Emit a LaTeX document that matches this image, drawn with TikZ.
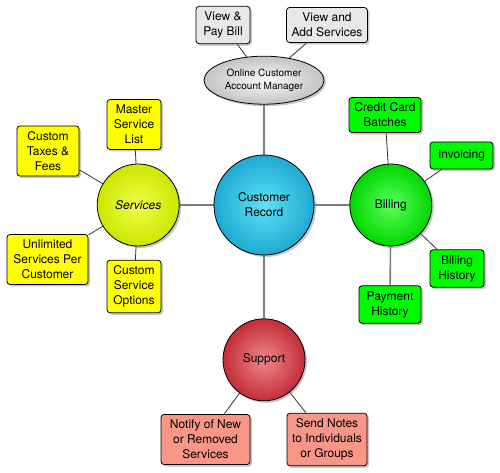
\documentclass[tikz,border=0pt]{standalone}
\usepackage{fontspec}
\setmainfont{TeX Gyre Heros}
\usetikzlibrary{positioning,shapes.geometric,shadows,backgrounds}
\usepackage{xcolor}

\definecolor{recIn}{RGB}{95,225,245}
\definecolor{recOut}{RGB}{30,170,210}
\definecolor{svcIn}{RGB}{240,255,70}
\definecolor{svcOut}{RGB}{205,230,0}
\definecolor{billIn}{RGB}{90,255,90}
\definecolor{billOut}{RGB}{0,215,0}
\definecolor{supIn}{RGB}{240,135,140}
\definecolor{supOut}{RGB}{195,45,55}
\definecolor{portalIn}{RGB}{250,250,250}
\definecolor{portalOut}{RGB}{195,195,195}
\definecolor{yellowBox}{RGB}{255,255,0}
\definecolor{greenBox}{RGB}{0,250,0}
\definecolor{pinkBox}{RGB}{250,150,135}
\definecolor{grayBox}{RGB}{232,232,232}
\definecolor{hubLine}{RGB}{125,125,125}

\begin{document}
\begin{tikzpicture}[
            x=1pt, y=-1pt,
            hub/.style 2 args={circle, draw, line width=0.8pt, minimum size=82pt, inner sep=0pt, align=center, font=\fontsize{12}{15}\selectfont, inner color=#1, outer color=#2, drop shadow={shadow xshift=2pt, shadow yshift=-2pt, opacity=0.45}},
            box/.style={rectangle, draw, rounded corners=3pt, line width=0.8pt, align=center, inner xsep=5pt, inner ysep=5.5pt, minimum height=27pt, font=\fontsize{12}{15}\selectfont, fill=#1, drop shadow={shadow xshift=2pt, shadow yshift=-2pt, opacity=0.45}},
            mainlink/.style={draw=hubLine, line width=1.6pt},
            link/.style={draw=black!80, line width=0.8pt}
        ]
            \useasboundingbox (0,0) rectangle (500,473);

            % --- CUSTOMER RECORD ---
            \node[hub={recIn}{recOut}, minimum size=100pt] (rec) at (264,205) {Customer\\Record};

            % --- HUBS ---
            \node[hub={portalIn}{portalOut}, ellipse, minimum width=120pt, minimum height=48pt, font=\fontsize{10}{13}\selectfont, above=50pt of rec] (portal) {Online Customer\\Account Manager};
            \node[hub={svcIn}{svcOut}, font=\fontsize{12}{15}\selectfont\itshape, left=34pt of rec] (svc) {Services};
            \node[hub={billIn}{billOut}, right=35pt of rec] (bill) {Billing};
            \node[hub={supIn}{supOut}, below=63pt of rec] (sup) {Support};

            % --- ONLINE ---
            \node[box=grayBox, minimum width=54pt] (payBill) at (223,25) {View \&\\Pay Bill};
            \node[box=grayBox, minimum width=80pt] (addSvc) at (327,25) {View and\\Add Services};

            % --- SERVICES ---
            \node[box=yellowBox, minimum width=54pt] (masterList) at (134,124.5) {Master\\Service\\List};
            \node[box=yellowBox, minimum width=62pt] (taxes) at (48,151) {Custom\\Taxes \&\\Fees};
            \node[box=yellowBox, minimum width=81pt] (unlimited) at (47.5,259.5) {Unlimited\\Services Per\\Customer};
            \node[box=yellowBox, minimum width=54pt] (svcOptions) at (134,286.5) {Custom\\Service\\Options};

            % --- BILLING ---
            \node[box=greenBox, minimum width=72pt] (ccBatches) at (385,115) {Credit Card\\Batches};
            \node[box=greenBox, minimum width=63pt] (invoicing) at (461.5,155.5) {Invoicing};
            \node[box=greenBox, minimum width=54pt] (billHist) at (457,268.5) {Billing\\History};
            \node[box=greenBox, minimum width=62pt] (payHist) at (390,304.5) {Payment\\History};

            % --- SUPPORT ---
            \node[box=pinkBox, minimum width=89pt] (notify) at (205.5,439.5) {Notify of New\\or Removed\\Services};
            \node[box=pinkBox, minimum width=80pt] (sendNotes) at (327,439.5) {Send Notes\\to Individuals\\or Groups};

            % Ligações por trás dos nós
            \begin{scope}[on background layer]
                \draw[mainlink] (rec) -- (portal);
                \draw[mainlink] (rec) -- (svc);
                \draw[mainlink] (rec) -- (bill);
                \draw[mainlink] (rec) -- (sup);

                \draw[link] (portal) -- (payBill);
                \draw[link] (portal) -- (addSvc);
                \draw[link] (svc) -- (masterList);
                \draw[link] (svc) -- (taxes);
                \draw[link] (svc) -- (unlimited);
                \draw[link] (svc) -- (svcOptions);
                \draw[link] (bill) -- (ccBatches);
                \draw[link] (bill) -- (invoicing);
                \draw[link] (bill) -- (billHist);
                \draw[mainlink] (bill) -- (payHist);
                \draw[link] (sup) -- (notify);
                \draw[link] (sup) -- (sendNotes);
            \end{scope}

        \end{tikzpicture}
\end{document}
